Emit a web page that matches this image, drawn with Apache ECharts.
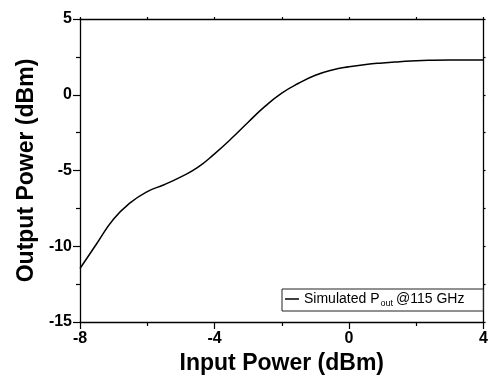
<!DOCTYPE html>
<html>
<head>
<meta charset="utf-8">
<script src="https://cdn.jsdelivr.net/npm/echarts@6/dist/echarts.min.js"></script>
<style>
  html, body { margin: 0; padding: 0; background: #fff; }
  #chart { width: 491px; height: 380px; }
</style>
</head>
<body>
<div id="chart"></div>
<script>
// values
const inputPower = [-8, -7.5, -7, -6.5, -6, -5.5, -5, -4.5, -4, -3.5, -3, -2.5, -2,
  -1.5, -1, -0.5, 0, 0.5, 1, 1.5, 2, 2.5, 3, 3.5, 4];
const outputPower = [-11.47, -9.82, -8.2, -7.12, -6.39, -5.94, -5.42, -4.8, -3.9, -2.89,
  -1.81, -0.77, 0.11, 0.76, 1.29, 1.64, 1.85, 2.0, 2.1, 2.18, 2.25, 2.28, 2.29, 2.29, 2.29];
const xTicks = { min: -8, max: 4, step: 4 };
const yTicks = { min: -15, max: 5, step: 5 };

const FONT = 'Arial, "Liberation Sans", sans-serif';

function axisBase(major, minor) {
  return {
    type: 'value',
    axisLine: { show: true, onZero: false, lineStyle: { color: '#000', width: 1.3 } },
    axisTick: { show: true, inside: false, length: major, lineStyle: { color: '#000', width: 1.2 } },
    minorTick: { show: true, splitNumber: 2, length: minor, lineStyle: { color: '#000', width: 1.2 } },
    splitLine: { show: false },
    minorSplitLine: { show: false }
  };
}

function xAxisCfg(pos, labels) {
  return Object.assign(axisBase(labels ? 7 : 2, labels ? 4 : 2), {
    position: pos,
    min: xTicks.min, max: xTicks.max, interval: xTicks.step,
    name: labels ? 'Input Power (dBm)' : '',
    nameLocation: 'middle',
    nameGap: 27,
    nameTextStyle: { fontFamily: FONT, fontWeight: 'bold', fontSize: 23, color: '#000' },
    axisLabel: { show: labels, margin: 9, fontFamily: FONT, fontWeight: 'bold', fontSize: 16, color: '#000' }
  });
}

function yAxisCfg(pos, labels) {
  return Object.assign(axisBase(labels ? 7 : 2, labels ? 4 : 2), {
    position: pos,
    min: yTicks.min, max: yTicks.max, interval: yTicks.step,
    name: labels ? 'Output Power (dBm)' : '',
    nameLocation: 'middle',
    nameGap: 40,
    nameTextStyle: { fontFamily: FONT, fontWeight: 'bold', fontSize: 23, color: '#000' },
    axisLabel: { show: labels, margin: 8, fontFamily: FONT, fontWeight: 'bold', fontSize: 16, color: '#000' }
  });
}

const chart = echarts.init(document.getElementById('chart'));
chart.setOption({
  animation: false,
  backgroundColor: '#fff',
  grid: { left: 80, right: 4, top: 19, bottom: 58, containLabel: false },
  legend: {
    left: 282, top: 289,
    orient: 'horizontal',
    padding: [3, 19, 3, 3],
    borderColor: '#222', borderWidth: 1,
    itemWidth: 14, itemHeight: 1.5, itemGap: 4,
    icon: 'rect',
    data: ['Simulated Pout @115 GHz'],
    formatter: () => '{a|Simulated P}{s|out}{a|@115 GHz}',
    textStyle: {
      fontFamily: FONT, color: '#000',
      rich: {
        a: { fontFamily: FONT, fontSize: 14, color: '#000', lineHeight: 18 },
        s: { fontFamily: FONT, fontSize: 9, color: '#000', lineHeight: 18, verticalAlign: 'bottom', padding: [7, 3, 0, 1] }
      }
    }
  },
  xAxis: [xAxisCfg('bottom', true), xAxisCfg('top', false)],
  yAxis: [yAxisCfg('left', true), yAxisCfg('right', false)],
  series: [{
    name: 'Simulated Pout @115 GHz',
    type: 'line',
    xAxisIndex: 0, yAxisIndex: 0,
    data: inputPower.map((x, i) => [x, outputPower[i]]),
    smooth: 0.5,
    symbol: 'none',
    itemStyle: { color: '#000' },
    lineStyle: { color: '#000', width: 1.5 }
  }]
});
</script>
</body>
</html>
